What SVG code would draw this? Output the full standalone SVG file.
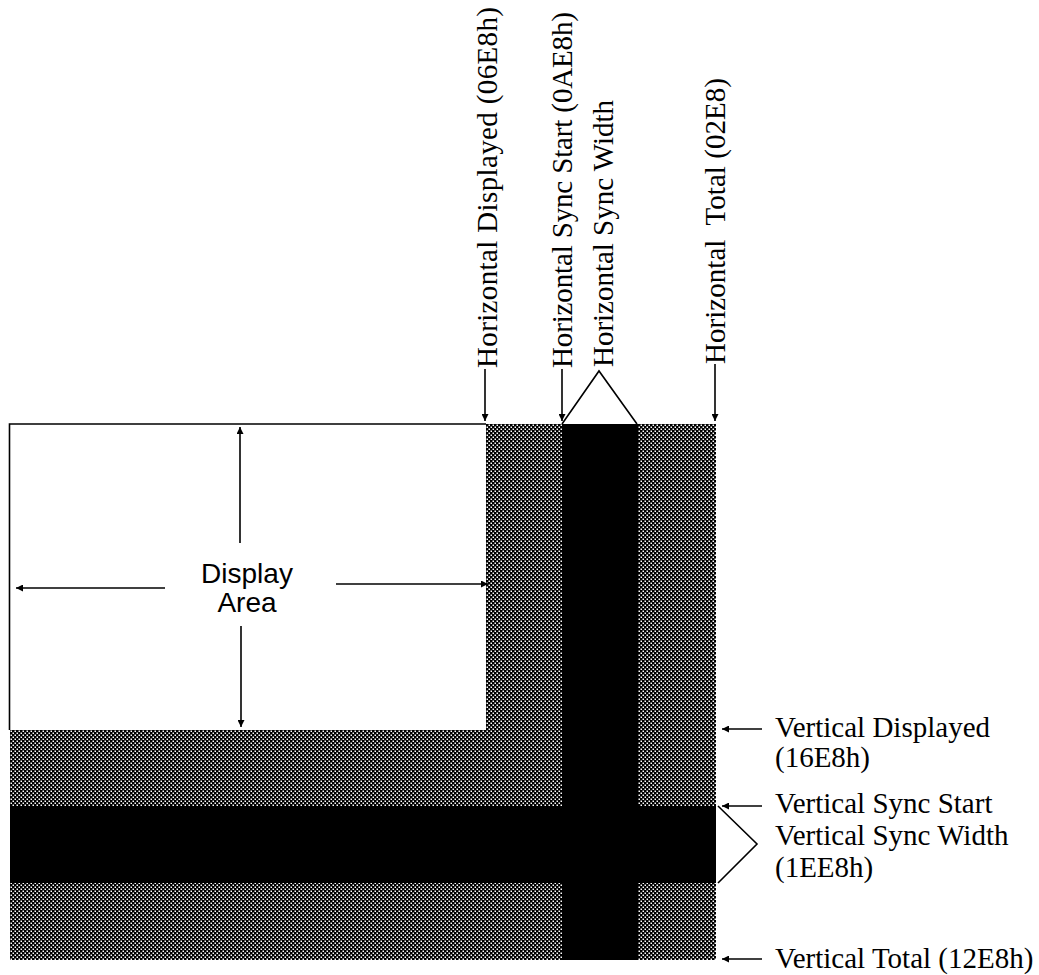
<svg xmlns="http://www.w3.org/2000/svg" width="1039" height="975" viewBox="0 0 1039 975">
<style>
.lbl{font-family:"Liberation Serif","Times New Roman",serif;font-size:29px;fill:#000}
.da{font-family:"Liberation Sans",Arial,sans-serif;font-size:28px;fill:#000}
.ln{stroke:#000;stroke-width:1.6;fill:none}
.st{fill:url(#stip)}
</style>
<defs>
<pattern id="stip" x="0" y="0" width="4" height="4" patternUnits="userSpaceOnUse">
<rect width="4" height="4" fill="#000"/>
<rect x="0.5" y="0.5" width="1.5" height="1.5" fill="#fff"/>
<rect x="2.5" y="2.5" width="1.5" height="1.5" fill="#fff"/>
</pattern>
<marker id="ah" viewBox="0 0 10 10" refX="10" refY="5" markerWidth="7" markerHeight="7" markerUnits="userSpaceOnUse" orient="auto">
<path d="M0,0 L10,5 L0,10 z" fill="#000"/>
</marker>
</defs>
<rect width="1039" height="975" fill="#fff"/>
<g id="display-area">
<rect x="10" y="424" width="476" height="306" fill="#fff"/>
<path class="ln" d="M486,424 H9.5 V730"/>
<text class="da" x="247" y="583" text-anchor="middle">Display</text>
<text class="da" x="247" y="612" text-anchor="middle">Area</text>
</g>
<g id="blanking">
<rect class="st" x="486" y="424" width="230" height="306"/>
<rect class="st" x="10" y="730" width="706" height="230"/>
</g>
<g id="sync-bands">
<rect x="562" y="424" width="76" height="536" fill="#000"/>
<rect x="10" y="806" width="706" height="77" fill="#000"/>
</g>
<g id="h-labels">
<text class="lbl" transform="translate(497,368) rotate(-90)" textLength="361">Horizontal Displayed (06E8h)</text>
<text class="lbl" transform="translate(572,368) rotate(-90)" textLength="356">Horizontal Sync Start (0AE8h)</text>
<text class="lbl" transform="translate(613,367) rotate(-90)" textLength="267">Horizontal Sync Width</text>
<text class="lbl" transform="translate(725,364) rotate(-90)" textLength="286" xml:space="preserve">Horizontal  Total (02E8)</text>
</g>
<g id="v-labels">
<text class="lbl" x="775" y="737">Vertical Displayed</text>
<text class="lbl" x="775" y="767">(16E8h)</text>
<text class="lbl" x="775" y="813">Vertical Sync Start</text>
<text class="lbl" x="775" y="845">Vertical Sync Width</text>
<text class="lbl" x="775" y="877">(1EE8h)</text>
<text class="lbl" x="775" y="968">Vertical Total (12E8h)</text>
</g>
<g id="connectors">
<line class="ln" x1="485" y1="369" x2="485" y2="421" marker-end="url(#ah)"/>
<line class="ln" x1="562" y1="369" x2="562" y2="421" marker-end="url(#ah)"/>
<polyline class="ln" points="562,424 599,371 637,424"/>
<line class="ln" x1="715" y1="364" x2="715" y2="421" marker-end="url(#ah)"/>
<line class="ln" x1="762" y1="729" x2="722" y2="729" marker-end="url(#ah)"/>
<line class="ln" x1="762" y1="806" x2="722" y2="806" marker-end="url(#ah)"/>
<polyline class="ln" points="718,806 757,844 718,883"/>
<line class="ln" x1="762" y1="959" x2="722" y2="959" marker-end="url(#ah)"/>
<line class="ln" x1="240" y1="543" x2="240" y2="427" marker-end="url(#ah)"/>
<line class="ln" x1="241" y1="626" x2="241" y2="727" marker-end="url(#ah)"/>
<line class="ln" x1="165" y1="588" x2="16" y2="588" marker-end="url(#ah)"/>
<line class="ln" x1="336" y1="584" x2="488" y2="584" marker-end="url(#ah)"/>
</g>
</svg>
